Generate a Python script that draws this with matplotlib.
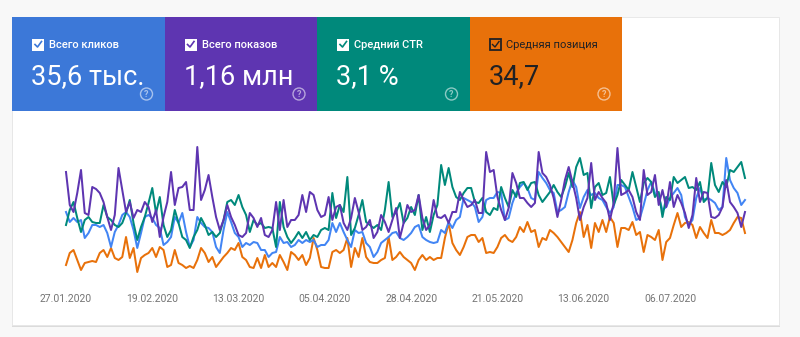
import matplotlib
matplotlib.use('Agg')
import matplotlib.pyplot as plt
import matplotlib.dates as mdates
from matplotlib.patches import Rectangle, Circle
import numpy as np
import datetime as dt

plt.rcParams['font.family'] = ['Roboto', 'DejaVu Sans']

start_date = dt.date(2020, 1, 27)

clicks = [68, 58, 62, 58, 60, 42, 47, 55, 55, 53, 55, 47, 33, 48, 55, 65, 68, 63, 50, 32, 47, 63, 65, 62, 55, 52, 35, 38, 43, 63, 57, 67, 48, 33, 40, 63,
          57, 53, 52, 48, 33, 27, 50, 68, 58, 47, 43, 33, 37, 35, 38, 37, 30, 30, 23, 27, 28, 43, 37, 38, 33, 35, 40, 37, 40, 38, 40, 33, 35, 35, 40, 57,
          48, 57, 48, 40, 33, 50, 47, 48, 37, 33, 23, 28, 37, 40, 43, 47, 48, 42, 40, 43, 47, 53, 55, 43, 40, 38, 37, 38, 50, 47, 58, 52, 60, 63, 82, 80,
          78, 73, 58, 63, 80, 82, 82, 88, 87, 60, 62, 77, 87, 93, 97, 92, 82, 80, 108, 102, 97, 90, 87, 68, 70, 73, 88, 100, 93, 72, 83, 90, 85, 87, 82, 80,
          73, 67, 73, 95, 95, 93, 83, 73, 60, 62, 75, 90, 98, 87, 83, 70, 73, 82, 87, 92, 85, 63, 55, 60, 82, 92, 80, 82, 80, 77, 70, 73, 122, 100, 92, 87, 75, 80]

impressions = [108, 75, 68, 87, 110, 67, 65, 93, 91, 87, 78, 63, 50, 65, 112, 90, 68, 78, 62, 70, 68, 78, 73, 58, 70, 43, 63, 78, 108, 75, 92, 93, 98, 70, 70, 133,
               80, 90, 105, 83, 63, 50, 60, 75, 63, 55, 45, 43, 47, 67, 62, 53, 62, 45, 43, 50, 78, 50, 80, 53, 60, 60, 65, 85, 68, 88, 85, 70, 63, 65, 83, 60,
               73, 75, 57, 50, 62, 82, 68, 50, 53, 60, 42, 48, 65, 58, 48, 60, 72, 42, 57, 75, 68, 70, 85, 62, 50, 55, 80, 63, 62, 65, 57, 68, 68, 88, 80, 73,
               75, 80, 67, 67, 128, 108, 110, 83, 70, 60, 72, 107, 97, 82, 82, 77, 73, 77, 128, 107, 103, 95, 82, 63, 80, 100, 113, 98, 82, 60, 73, 82, 117, 80, 88, 82,
               77, 60, 77, 132, 85, 87, 90, 83, 68, 60, 110, 85, 88, 105, 75, 90, 73, 98, 73, 85, 77, 67, 52, 65, 102, 78, 88, 87, 63, 62, 65, 73, 100, 78, 73, 67, 53, 68]

ctr = [55, 70, 78, 62, 48, 60, 63, 58, 57, 57, 75, 63, 60, 55, 53, 57, 67, 80, 57, 40, 53, 63, 77, 92, 67, 83, 55, 43, 50, 70, 57, 43, 40, 32, 43, 50,
       62, 55, 45, 48, 43, 47, 60, 78, 80, 75, 85, 73, 65, 48, 60, 55, 57, 52, 53, 52, 33, 78, 53, 43, 37, 42, 48, 42, 48, 40, 45, 43, 50, 52, 50, 87,
       62, 75, 68, 103, 45, 52, 65, 80, 58, 55, 52, 55, 50, 70, 98, 63, 68, 77, 57, 62, 73, 65, 85, 50, 63, 48, 65, 75, 115, 95, 112, 93, 83, 80, 87, 92,
       92, 78, 77, 82, 68, 65, 72, 70, 93, 82, 73, 90, 83, 97, 98, 90, 97, 98, 85, 78, 83, 88, 95, 88, 83, 93, 107, 93, 113, 122, 105, 107, 72, 93, 97, 85,
       87, 103, 75, 85, 100, 95, 90, 108, 93, 78, 97, 102, 98, 83, 88, 63, 83, 80, 103, 97, 100, 103, 92, 93, 90, 98, 78, 82, 117, 95, 88, 98, 93, 110, 108, 113, 118, 102]

position = [15, 27, 30, 20, 10, 17, 18, 19, 18, 27, 30, 23, 32, 22, 20, 23, 43, 22, 32, 8, 22, 25, 27, 32, 23, 33, 30, 13, 15, 30, 17, 15, 12, 14, 12, 20,
            32, 27, 18, 23, 13, 18, 23, 27, 32, 30, 37, 23, 20, 13, 12, 22, 12, 25, 13, 17, 13, 25, 18, 10, 28, 25, 20, 25, 15, 22, 42, 30, 13, 12, 12, 28,
            30, 27, 30, 42, 13, 32, 23, 42, 23, 18, 17, 17, 20, 22, 43, 20, 23, 28, 23, 20, 17, 10, 20, 25, 20, 23, 20, 22, 22, 42, 57, 37, 30, 25, 33, 43,
            45, 45, 38, 42, 27, 28, 27, 33, 42, 45, 40, 38, 43, 53, 48, 58, 48, 50, 33, 42, 40, 50, 47, 43, 38, 33, 28, 40, 57, 68, 43, 55, 32, 57, 48, 60,
            48, 63, 57, 33, 52, 52, 50, 58, 45, 48, 28, 45, 43, 40, 50, 20, 38, 42, 55, 67, 53, 57, 58, 55, 42, 53, 47, 42, 60, 47, 47, 45, 47, 50, 57, 63, 62, 47]

tile_labels = ['Всего кликов', 'Всего показов', 'Средний CTR', 'Средняя позиция']
tile_values = ['35,6 тыс.', '1,16 млн', '3,1 %', '34,7']
tile_colors = ['#3c78d8', '#5e35b1', '#00897b', '#e8710a']
line_colors = ['#4285f4', '#5e35b1', '#00897b', '#e8710a']

dates = [start_date + dt.timedelta(days=i) for i in range(len(clicks))]
tick_dates = [start_date + dt.timedelta(days=23 * k) for k in range(8)]

W, H = 800, 337
fig = plt.figure(figsize=(W / 100, H / 100), dpi=100)
fig.patch.set_facecolor('#f8f8f8')

# background layer in pixel coordinates
bg = fig.add_axes([0, 0, 1, 1])
bg.set_xlim(0, W)
bg.set_ylim(H, 0)
bg.axis('off')

# card with a soft shadow
bg.add_patch(Rectangle((12, 19), 768, 308, facecolor='#c8c8c8', edgecolor='none', alpha=0.6))
bg.add_patch(Rectangle((12, 17), 767, 308, facecolor='white', edgecolor='#e6e6e6', lw=0.6))

tile_w = 152.5
for k, (lab, val, col) in enumerate(zip(tile_labels, tile_values, tile_colors)):
    x0 = 12 + k * tile_w
    bg.add_patch(Rectangle((x0, 17), tile_w, 94, facecolor=col, edgecolor='none'))
    dark = (k == 3)
    fg = '#202124' if dark else 'white'
    # checkbox
    if dark:
        bg.add_patch(Rectangle((x0 + 20.5, 39), 11, 11, facecolor='none', edgecolor=fg, lw=1.3))
        bg.plot([x0 + 23, x0 + 25.5, x0 + 29.5], [44.5, 47, 41.5], color=fg, lw=1.0)
    else:
        bg.add_patch(Rectangle((x0 + 20, 38.5), 12, 12, facecolor='white', edgecolor='none'))
        bg.plot([x0 + 23, x0 + 25.5, x0 + 29.5], [44.5, 47, 41.5], color=col, lw=1.2)
    bg.text(x0 + 37, 44.5, lab, color=fg, fontsize=8, va='center', ha='left',
            fontweight='normal' if dark else 'medium')
    bg.text(x0 + 19, 84, val, color=fg, fontsize=19.5, va='baseline', ha='left')
    # help icon
    cx = x0 + tile_w - 18
    bg.add_patch(Circle((cx, 94), 6, facecolor='none', edgecolor='white', lw=1.0, alpha=0.55))
    bg.text(cx, 94.5, '?', color='white', alpha=0.55, fontsize=6.5, ha='center', va='center', fontweight='bold')

# line chart
left, right = 66, 745
top, bottom = 140, 280
ax = fig.add_axes([left / W, (H - bottom) / H, (right - left) / W, (bottom - top) / H])
ax.set_facecolor('none')
ax.plot(dates, position, color=line_colors[3], lw=1.45, clip_on=False)
ax.plot(dates, clicks, color=line_colors[0], lw=1.45, clip_on=False)
ax.plot(dates, ctr, color=line_colors[2], lw=1.45, clip_on=False)
ax.plot(dates, impressions, color=line_colors[1], lw=1.45, clip_on=False)
ax.set_xlim(dates[0], dates[-1])
ax.set_ylim(0, 140)
ax.set_yticks([])
ax.set_xticks(tick_dates)
ax.xaxis.set_major_formatter(mdates.DateFormatter('%d.%m.%Y'))
ax.tick_params(axis='x', length=0, pad=10, labelsize=7.5, labelcolor='#757575')
for s in ax.spines.values():
    s.set_visible(False)

plt.savefig('out.png', dpi=100, facecolor=fig.get_facecolor())
